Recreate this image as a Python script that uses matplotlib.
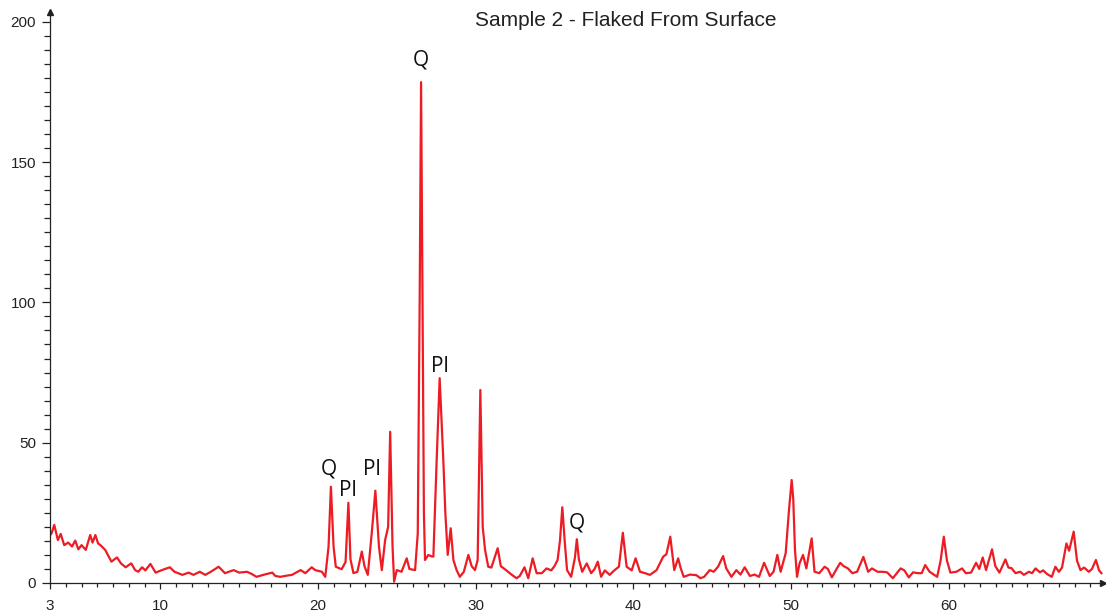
import numpy as np
import matplotlib.pyplot as plt
from matplotlib.ticker import MultipleLocator, FixedLocator

# 2-theta (deg) and counts
two_theta = [
	3.00, 3.10, 3.27, 3.50, 3.68, 3.90, 4.15, 4.40, 4.60, 4.80, 5.00, 5.27, 5.55, 5.70, 5.88, 6.05, 6.20,
	6.50, 6.90, 7.10, 7.25, 7.50, 7.80, 8.15, 8.40, 8.60, 8.84, 9.05, 9.37, 9.70, 10.10, 10.60, 10.90,
	11.40, 11.80, 12.10, 12.50, 12.85, 13.20, 13.70, 14.10, 14.65, 15.00, 15.50, 15.80, 16.10, 16.60,
	17.10, 17.30, 17.60, 18.00, 18.35, 18.90, 19.20, 19.60, 19.82, 20.25, 20.46, 20.67, 20.82, 20.99,
	21.13, 21.50, 21.75, 21.93, 22.06, 22.25, 22.50, 22.78, 22.95, 23.16, 23.41, 23.64, 23.87, 24.05,
	24.26, 24.36, 24.45, 24.58, 24.73, 24.83, 25.00, 25.30, 25.63, 25.80, 26.16, 26.33, 26.45, 26.54,
	26.63, 26.72, 26.79, 27.00, 27.20, 27.32, 27.53, 27.72, 27.95, 28.08, 28.23, 28.42, 28.59, 28.80,
	29.00, 29.25, 29.54, 29.75, 29.96, 30.13, 30.30, 30.45, 30.60, 30.80, 31.00, 31.40, 31.60, 31.86,
	32.30, 32.60, 32.80, 33.10, 33.34, 33.62, 33.87, 34.20, 34.50, 34.80, 35.00, 35.20, 35.35, 35.50,
	35.65, 35.80, 36.06, 36.30, 36.42, 36.55, 36.76, 37.05, 37.33, 37.55, 37.75, 37.96, 38.20, 38.50,
	38.80, 39.09, 39.34, 39.58, 39.90, 40.15, 40.43, 40.75, 41.06, 41.48, 41.90, 42.10, 42.35, 42.60,
	42.85, 43.00, 43.20, 43.60, 44.00, 44.26, 44.50, 44.85, 45.10, 45.38, 45.70, 45.90, 46.23, 46.54,
	46.80, 47.07, 47.40, 47.70, 47.98, 48.30, 48.66, 48.90, 49.14, 49.35, 49.67, 49.88, 50.05, 50.15,
	50.26, 50.39, 50.55, 50.77, 50.98, 51.32, 51.50, 51.80, 52.14, 52.35, 52.60, 52.90, 53.13, 53.35,
	53.62, 53.90, 54.20, 54.60, 54.90, 55.14, 55.50, 55.84, 56.10, 56.47, 56.96, 57.20, 57.48, 57.75,
	58.05, 58.30, 58.52, 58.80, 59.28, 59.50, 59.70, 59.90, 60.12, 60.50, 60.86, 61.10, 61.43, 61.75,
	61.95, 62.17, 62.38, 62.76, 62.97, 63.23, 63.61, 63.80, 64.00, 64.25, 64.55, 64.78, 65.10, 65.30,
	65.52, 65.80, 66.00, 66.25, 66.55, 66.78, 67.00, 67.20, 67.48, 67.65, 67.94, 68.15, 68.37, 68.60,
	68.90, 69.10, 69.35, 69.55, 69.70,
]
counts = [
	17.0, 17.7, 20.7, 15.3, 17.5, 13.5, 14.4, 13.0, 15.1, 12.0, 13.5, 11.8, 17.1, 14.4, 17.1, 14.1, 13.5,
	11.8, 7.6, 8.5, 9.1, 7.0, 5.6, 7.0, 4.6, 4.0, 5.6, 4.5, 6.8, 3.7, 4.6, 5.6, 4.0,
	2.9, 3.7, 2.9, 4.0, 2.9, 4.0, 5.8, 3.5, 4.6, 3.7, 4.0, 3.2, 2.2, 3.0,
	3.7, 2.5, 2.2, 2.6, 2.9, 4.6, 3.5, 5.6, 4.6, 4.0, 2.2, 12.9, 34.3, 12.9,
	5.8, 4.9, 7.5, 28.6, 8.5, 3.5, 4.0, 11.2, 6.0, 2.9, 17.7, 32.9, 12.9, 4.6,
	15.3, 17.7, 20.0, 53.9, 12.9, 0.5, 4.6, 4.0, 8.8, 5.0, 4.6, 17.7, 100.0, 178.5,
	100.0, 25.0, 8.2, 10.0, 9.5, 9.4, 43.9, 73.0, 43.9, 25.0, 10.0, 19.5, 8.2, 4.5,
	2.2, 4.0, 10.0, 6.0, 4.6, 8.2, 68.8, 20.0, 11.8, 5.8, 5.5, 12.4, 6.0, 4.9,
	2.9, 1.7, 2.5, 5.6, 1.7, 8.8, 3.5, 3.5, 5.2, 4.5, 6.0, 8.2, 15.0, 27.0,
	15.0, 4.6, 2.2, 9.0, 15.6, 8.5, 4.0, 7.0, 3.5, 5.0, 7.6, 2.2, 4.5, 2.9,
	4.5, 5.8, 17.9, 5.8, 4.5, 8.8, 4.0, 3.5, 2.9, 4.6, 9.4, 10.2, 16.5, 4.6,
	8.8, 5.5, 2.2, 3.0, 2.8, 1.7, 2.2, 4.6, 4.0, 5.8, 9.6, 5.2, 2.2, 4.6,
	3.0, 5.6, 2.5, 3.0, 2.2, 7.2, 2.5, 4.0, 10.0, 4.0, 10.6, 26.0, 36.7, 30.0,
	11.8, 2.2, 7.0, 10.0, 5.2, 15.9, 4.0, 3.5, 5.8, 5.0, 2.0, 5.0, 7.2, 6.0,
	5.2, 3.5, 4.0, 9.3, 4.0, 5.2, 4.0, 4.0, 3.8, 1.7, 5.2, 4.5, 2.0, 3.8,
	3.5, 3.5, 6.4, 4.0, 2.2, 8.0, 16.5, 8.0, 3.7, 4.0, 5.2, 3.5, 3.7, 7.2,
	5.0, 9.1, 4.6, 12.0, 6.0, 3.7, 8.4, 5.5, 5.3, 3.5, 4.0, 2.9, 4.0, 3.5,
	5.2, 3.8, 4.5, 3.2, 2.2, 5.8, 4.0, 5.5, 14.1, 11.5, 18.3, 8.0, 4.6, 5.5,
	4.0, 5.0, 8.2, 4.5, 3.5,
]

# phase labels: text, 2-theta, counts
peak_labels = ["Q", "Pl", "Pl", "Q", "Pl", "Q"]
label_x = [20.70, 21.90, 23.43, 26.54, 27.74, 36.40]
label_y = [40.6, 32.8, 40.3, 186.5, 77.0, 21.4]

fig = plt.figure(figsize=(11.06, 6.14), dpi=100)
ax = fig.add_axes([50/1106, 31/614, 1053/1106, 571/614])

ax.plot(two_theta, counts, color="#ED1C24", lw=1.6)

for txt, xl, yl in zip(peak_labels, label_x, label_y):
	ax.text(xl, yl, txt, ha="center", va="center", fontsize=15, family="Open Sans", color="#111111")

ax.set_xlim(3, 69.8)
ax.set_ylim(0, 203.5)

for side in ["top", "right"]:
	ax.spines[side].set_visible(False)
for side in ["left", "bottom"]:
	ax.spines[side].set_color("#222222")
	ax.spines[side].set_linewidth(0.9)

ax.xaxis.set_major_locator(FixedLocator([3, 10, 20, 30, 40, 50, 60]))
ax.xaxis.set_minor_locator(MultipleLocator(1))
ax.yaxis.set_major_locator(MultipleLocator(50))
ax.yaxis.set_minor_locator(MultipleLocator(5))

ax.tick_params(axis="x", which="major", length=4.5, width=0.9, pad=7, labelsize=11, colors="#222222")
ax.tick_params(axis="x", which="minor", length=3, width=0.9, colors="#222222")
ax.tick_params(axis="y", which="major", length=6, width=0.9, pad=4, labelsize=11, colors="#222222")
ax.tick_params(axis="y", which="minor", length=4, width=0.9, colors="#222222")
for lab in ax.get_xticklabels() + ax.get_yticklabels():
	lab.set_family("Liberation Sans")

# arrow heads at the ends of the axes
ax.plot(0, 1, marker="^", ms=5, color="#222222", transform=ax.transAxes, clip_on=False)
ax.plot(1, 0, marker=">", ms=5, color="#222222", transform=ax.transAxes, clip_on=False)

fig.text(626/1106, 1 - 21/614, "Sample 2 - Flaked From Surface", ha="center", va="center",
	fontsize=15, family="Liberation Sans", color="#222222")

fig.savefig("out.png", dpi=100)
